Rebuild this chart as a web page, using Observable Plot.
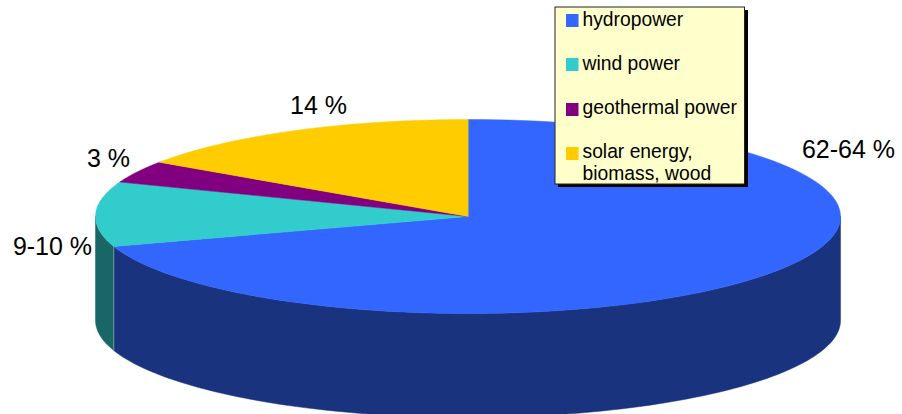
<!DOCTYPE html>
<html>
<head>
<meta charset="utf-8">
<style>html,body{margin:0;padding:0;background:#fff}svg{display:block}</style>
<script src="https://cdn.jsdelivr.net/npm/d3@7"></script>
<script src="https://cdn.jsdelivr.net/npm/@observablehq/plot@0.6"></script>
</head>
<body>
<script>
// Data
const categories = ["hydropower", "wind power", "geothermal power", "solar energy,\nbiomass, wood"];
const values = [63, 9.7, 3.3, 14];
const sliceLabels = ["62-64 %", "9-10 %", "3 %", "14 %"];
const topColors = ["#3366FF", "#33CCCC", "#800080", "#FFCC00"];
const sideColors = ["#19337F", "#196666"];

// Layout of the drawing
const W = 902, H = 414, cx = 467.5, cy = 216, rx = 372.5, ry = 97, depth = 104;
const labelX = [848, 52, 108, 318], labelY = [157, 254, 166, 113];
const swatchY = [14, 58, 103, 147], legendTextY = [26, 70, 114, 158];
const font = "'Liberation Sans', Arial, sans-serif";

const total = d3.sum(values);
const ends = d3.cumsum(values).map(v => v / total * 2 * Math.PI);
const starts = [0, ...ends.slice(0, -1)];
const pt = (t, dy = 0) => ({x: cx + rx * Math.sin(t), y: cy - ry * Math.cos(t) + dy});
const arc = (a, b, dy = 0) => d3.range(0, 121).map(i => pt(a + (b - a) * i / 120, dy));

const wedges = values.map((_, i) => [{x: cx, y: cy}, ...arc(starts[i], ends[i])]);
const side = (a, b) => [...arc(a, b), ...arc(b, a, depth)];
const blueSide = side(Math.PI / 2, ends[0]);
const tealSide = side(ends[0], 1.5 * Math.PI);
const seam = [pt(ends[0]), pt(ends[0], depth)];

const poly = (data, color) => Plot.line(data, {x: "x", y: "y", fill: color, stroke: color, strokeWidth: 0.5, curve: "linear-closed"});

const labels = sliceLabels.map((t, i) => ({t, x: labelX[i], y: labelY[i]}));
const legend = categories.map((t, i) => ({t, c: topColors[i], sy: swatchY[i], ty: legendTextY[i]}));

const plot = Plot.plot({
  width: W, height: H, margin: 0,
  x: {domain: [0, W], range: [0, W], axis: null},
  y: {domain: [0, H], range: [0, H], axis: null},
  style: {background: "#fff", fontFamily: font},
  marks: [
    poly(blueSide, sideColors[0]),
    poly(tealSide, sideColors[1]),
    Plot.line(seam, {x: "x", y: "y", stroke: "#8a9a9f", strokeWidth: 0.8}),
    ...wedges.map((w, i) => poly(w, topColors[i])),
    Plot.text(labels, {x: "x", y: "y", text: "t", fontSize: 25, fill: "#000", textAnchor: "middle", lineAnchor: "bottom"}),
    Plot.rect([0], {x1: 558, x2: 748, y1: 10, y2: 187, fill: "#000"}),
    Plot.rect([0], {x1: 555, x2: 744.5, y1: 7, y2: 184, fill: "#FFFFCC", stroke: "#222", strokeWidth: 1}),
    ...legend.map(d => Plot.rect([d], {x1: 566, x2: 578.5, y1: d.sy, y2: d.sy + 13, fill: d.c})),
    Plot.text(legend, {x: 582, y: "ty", text: "t", fontSize: 19.3, lineHeight: 1.14, fill: "#000", textAnchor: "start", lineAnchor: "top", dy: -16})
  ]
});
document.body.appendChild(plot);
</script>
</body>
</html>
